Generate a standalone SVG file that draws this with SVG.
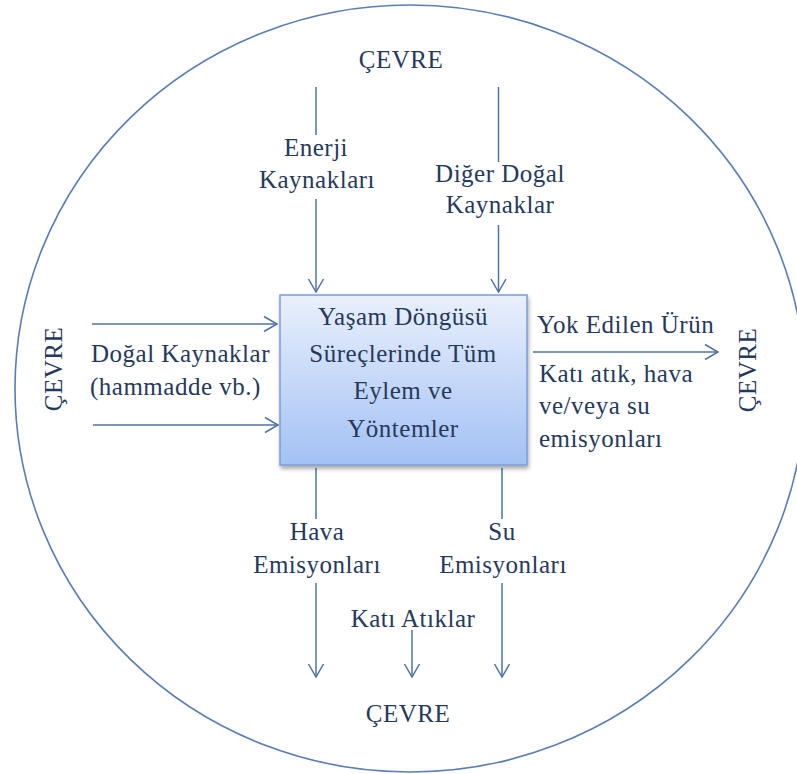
<svg xmlns="http://www.w3.org/2000/svg" width="797" height="774" viewBox="0 0 797 774">
<style>
  .t { font-family: "Liberation Serif", "Times New Roman", serif; font-size: 25px; fill: #26395c; letter-spacing: 0.5px; }
  .m { text-anchor: middle; }
  .ln { stroke: #4f72a6; stroke-width: 1.5; fill: none; }
  .ar { marker-end: url(#arr); }
</style>
<defs>
  <marker id="arr" markerUnits="userSpaceOnUse" markerWidth="20" markerHeight="20" viewBox="-16 -10 20 20" refX="0" refY="0" orient="auto">
    <path d="M-13,-7.5 L0,0 L-13,7.5" fill="none" stroke="#4f72a6" stroke-width="1.5"/>
  </marker>
  <linearGradient id="boxg" x1="0" y1="0" x2="0" y2="1">
    <stop offset="0" stop-color="#e9f0fd"/>
    <stop offset="1" stop-color="#a3c1f4"/>
  </linearGradient>
  <filter id="sh" x="-10%" y="-10%" width="125%" height="130%">
    <feGaussianBlur in="SourceAlpha" stdDeviation="2"/>
    <feOffset dx="1" dy="3" result="b"/>
    <feComponentTransfer><feFuncA type="linear" slope="0.35"/></feComponentTransfer>
    <feMerge><feMergeNode/><feMergeNode in="SourceGraphic"/></feMerge>
  </filter>
</defs>
<rect width="797" height="774" fill="#ffffff"/>
<g id="environment-circle">
  <ellipse cx="410" cy="388.5" rx="395" ry="383.5" fill="none" stroke="#5a7db4" stroke-width="1.6"/>
</g>
<g id="connectors">
  <line class="ln" x1="316" y1="87" x2="316" y2="135"/>
  <line class="ln ar" x1="316" y1="199" x2="316" y2="292"/>
  <line class="ln" x1="498.5" y1="87" x2="498.5" y2="162"/>
  <line class="ln ar" x1="498.5" y1="225" x2="498.5" y2="292"/>
  <line class="ln ar" x1="92" y1="324" x2="277" y2="324"/>
  <line class="ln ar" x1="93" y1="425" x2="278" y2="425"/>
  <line class="ln ar" x1="533" y1="352" x2="718" y2="352"/>
  <line class="ln" x1="316" y1="468" x2="316" y2="519"/>
  <line class="ln ar" x1="316" y1="583" x2="316" y2="677"/>
  <line class="ln" x1="502" y1="468" x2="502" y2="519"/>
  <line class="ln ar" x1="502" y1="583" x2="502" y2="677"/>
  <line class="ln ar" x1="412" y1="630" x2="412" y2="677"/>
</g>
<g id="process-box">
  <rect x="280" y="295" width="247" height="170" fill="url(#boxg)" stroke="#7c9cd4" stroke-width="1.5" filter="url(#sh)"/>
  <text class="t m" x="403" y="325">Yaşam Döngüsü</text>
  <text class="t m" x="403" y="362">Süreçlerinde Tüm</text>
  <text class="t m" x="403" y="399">Eylem ve</text>
  <text class="t m" x="403" y="437">Yöntemler</text>
</g>
<g id="env-top"><text class="t m" x="401" y="68">ÇEVRE</text></g>
<g id="env-bottom"><text class="t m" x="408" y="722">ÇEVRE</text></g>
<g id="env-left"><text class="t m" transform="translate(62,369) rotate(-90)">ÇEVRE</text></g>
<g id="env-right"><text class="t m" transform="translate(756,370) rotate(-90)">ÇEVRE</text></g>
<g id="label-energy">
  <text class="t m" x="316" y="156">Enerji</text>
  <text class="t m" x="317" y="188">Kaynakları</text>
</g>
<g id="label-other-natural">
  <text class="t m" x="500" y="182">Diğer Doğal</text>
  <text class="t m" x="500" y="213">Kaynaklar</text>
</g>
<g id="label-natural">
  <text class="t" x="91" y="362">Doğal Kaynaklar</text>
  <text class="t" x="90" y="395">(hammadde vb.)</text>
</g>
<g id="label-output">
  <text class="t" x="537" y="333">Yok Edilen Ürün</text>
  <text class="t" x="539" y="382">Katı atık, hava</text>
  <text class="t" x="539" y="414">ve/veya su</text>
  <text class="t" x="539" y="447">emisyonları</text>
</g>
<g id="label-air">
  <text class="t m" x="317" y="540">Hava</text>
  <text class="t m" x="317" y="573">Emisyonları</text>
</g>
<g id="label-water">
  <text class="t m" x="502" y="540">Su</text>
  <text class="t m" x="503" y="573">Emisyonları</text>
</g>
<g id="label-solid">
  <text class="t m" x="413" y="627">Katı Atıklar</text>
</g>
</svg>
